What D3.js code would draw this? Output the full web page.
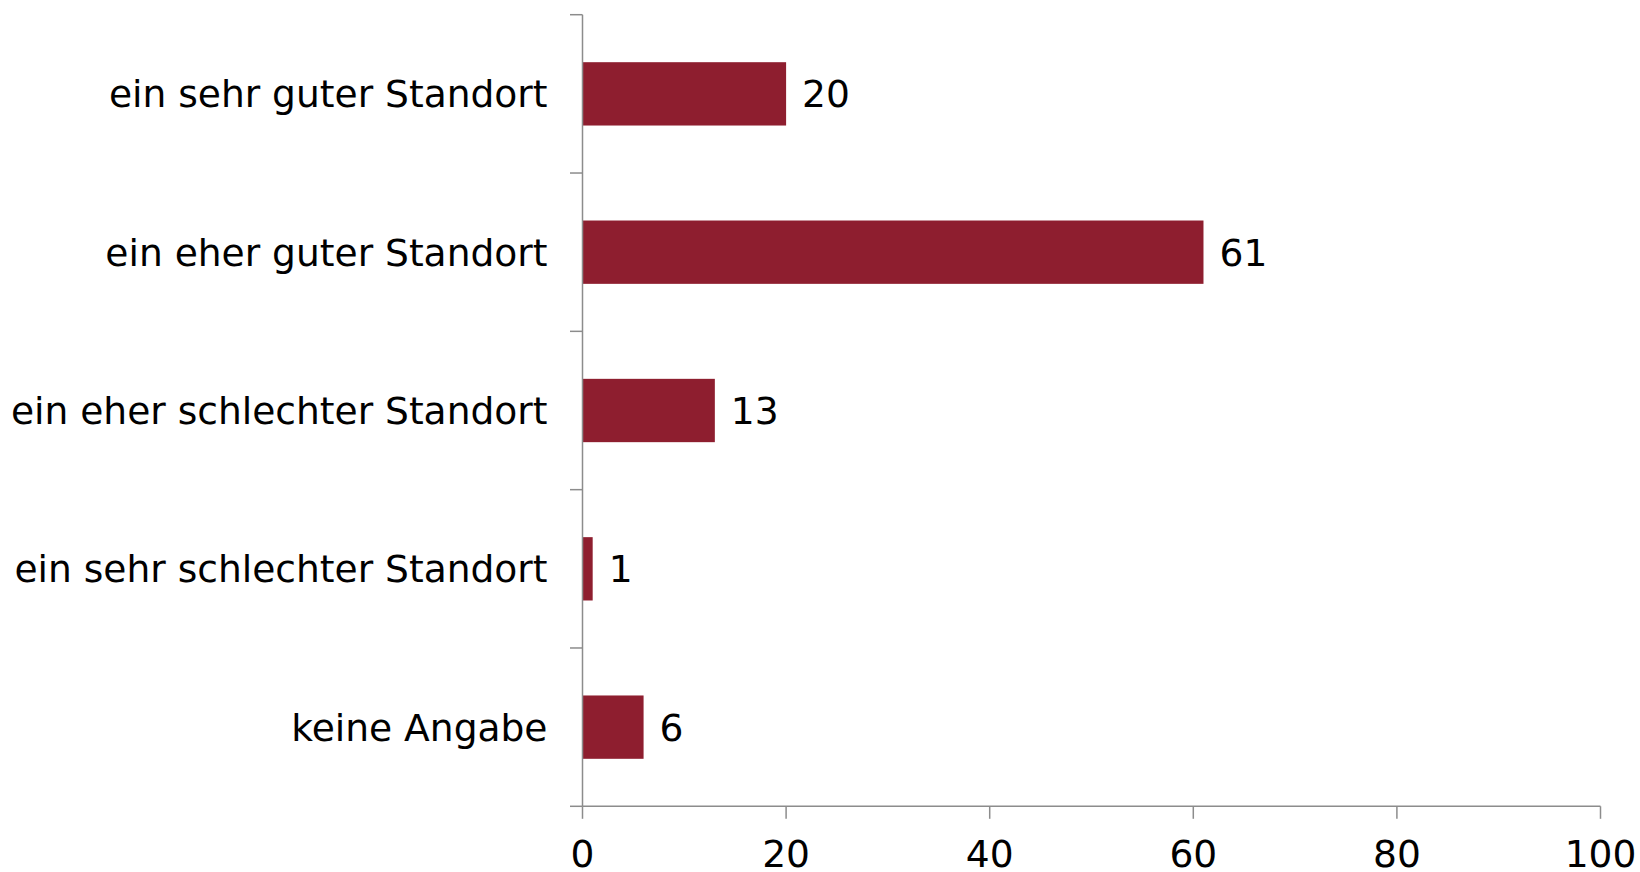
<!DOCTYPE html>
<html><head><meta charset="utf-8">
<script src="https://cdn.jsdelivr.net/npm/d3@7"></script>
<style>body{margin:0;background:#fff}svg{display:block}text{font-family:"DejaVu Sans",Verdana,sans-serif;fill:#000}</style>
</head><body>
<svg id="c" width="1640" height="872"></svg>
<script>
const categories = ["ein sehr guter Standort","ein eher guter Standort","ein eher schlechter Standort","ein sehr schlechter Standort","keine Angabe"];
const values = [20, 61, 13, 1, 6];
const xTicks = [0, 20, 40, 60, 80, 100];

(function(){
const svg = d3.select("#c");
const pLeft = 582.5, pRight = 1600.5, pTop = 14.7, pBottom = 806.3;
const fs = 37.6;
const axisColor = "#8c8c8c";
const barColor = "#8E1E2F";

const x = d3.scaleLinear().domain([0, 100]).range([pLeft, pRight]);
const y = d3.scaleBand().domain(categories).range([pTop, pBottom]).paddingInner(0.6).paddingOuter(0.3);

// bars
svg.selectAll("rect.bar").data(values).join("rect")
  .attr("x", x(0)).attr("y", (d,i)=>y(categories[i]))
  .attr("width", d=>x(d)-x(0)).attr("height", y.bandwidth())
  .attr("fill", barColor);

// value labels
svg.selectAll("text.val").data(values).join("text")
  .attr("x", d=>x(d)+16).attr("y", (d,i)=>y(categories[i])+y.bandwidth()/2)
  .attr("dy","0.36em").attr("font-size", fs).text(d=>d);

// y axis line
svg.append("line").attr("x1",pLeft).attr("x2",pLeft).attr("y1",pTop).attr("y2",pBottom)
  .attr("stroke",axisColor).attr("stroke-width",1.5);
// y boundary ticks
const step = (pBottom-pTop)/categories.length;
const bounds = d3.range(categories.length+1).map(i=>pTop+i*step);
svg.selectAll("line.yt").data(bounds).join("line")
  .attr("x1",pLeft-12.5).attr("x2",pLeft).attr("y1",d=>d).attr("y2",d=>d)
  .attr("stroke",axisColor).attr("stroke-width",1.5);
// category labels
svg.selectAll("text.cat").data(categories).join("text")
  .attr("x", pLeft-35).attr("y", d=>y(d)+y.bandwidth()/2).attr("dy","0.36em")
  .attr("text-anchor","end").attr("font-size", fs).text(d=>d);

// x axis
svg.append("line").attr("x1",pLeft).attr("x2",pRight).attr("y1",pBottom).attr("y2",pBottom)
  .attr("stroke",axisColor).attr("stroke-width",1.5);
svg.selectAll("line.xt").data(xTicks).join("line")
  .attr("x1",d=>x(d)).attr("x2",d=>x(d)).attr("y1",pBottom).attr("y2",pBottom+12.5)
  .attr("stroke",axisColor).attr("stroke-width",1.5);
svg.selectAll("text.xl").data(xTicks).join("text")
  .attr("x",d=>x(d)).attr("y",867).attr("text-anchor","middle").attr("font-size",fs).text(d=>d);
})();
</script>
</body></html>
